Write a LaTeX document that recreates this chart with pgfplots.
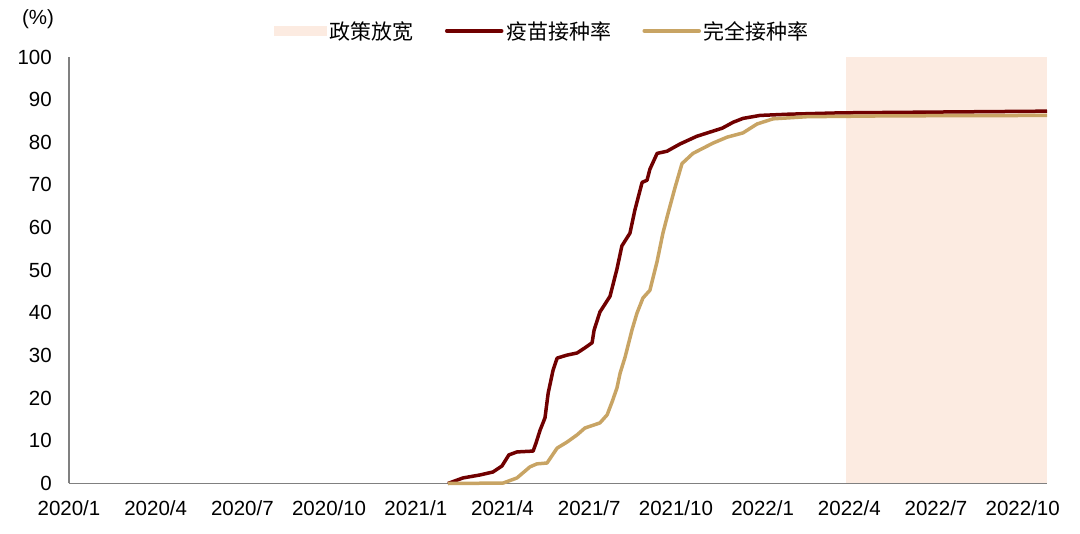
\documentclass[border=0pt]{standalone}
\usepackage{fontspec}
\setmainfont{Liberation Sans}
\newfontfamily\cjk{Noto Sans CJK SC}
\usepackage{pgfplots}
\pgfplotsset{compat=1.18}
\definecolor{vred}{HTML}{700000}
\definecolor{vtan}{HTML}{C8A464}
\definecolor{vshade}{HTML}{FCEBE1}
\definecolor{axgray}{HTML}{808080}
\begin{document}
\begin{tikzpicture}
\begin{axis}[
 set layers,
 scale only axis, width=978pt, height=426.5pt,
 xmin=0, xmax=33.84, ymin=0, ymax=100,
 axis x line*=bottom, axis y line*=left,
 axis line style={draw=axgray, line width=1.4pt, -},
 major tick length=0pt,
 xtick={0,3,...,33},
 xticklabels={2020/1,2020/4,2020/7,2020/10,2021/1,2021/4,2021/7,2021/10,2022/1,2022/4,2022/7,2022/10},
 ytick={0,10,...,100},
 /pgf/number format/assume math mode=true,
 tick label style={font=\fontsize{20.5}{24}\selectfont, inner sep=0pt},
 xticklabel style={anchor=north, yshift=-16.5pt},
 yticklabel style={anchor=east, xshift=-17pt},
 clip=false,
 legend columns=3,
 legend style={at={(axis description cs:0.2096,1.061)}, anchor=west, draw=none, fill=none,
   inner sep=0pt, outer sep=0pt, font=\cjk\fontsize{21}{24}\selectfont,
   nodes={inner sep=3pt},
   /tikz/every even column/.append style={column sep=28pt}},
]
\addplot[on layer=axis background, fill=vshade, draw=none,
  legend image code/.code={\fill[vshade] (0pt,-5pt) rectangle (53pt,5pt);}]
  coordinates {(26.9,0) (26.9,100) (33.84,100) (33.84,0)} -- cycle;
\addlegendentry{政策放宽}
\addplot[vred, line width=3.5pt, line join=round,
  legend image code/.code={\draw[vred, line width=3.5pt, line cap=round] (0pt,0pt) -- (55pt,0pt);}]
  coordinates {
(13.11,0) (13.63,1.3) (14.22,2.0) (14.67,2.7) (14.98,4.1) (15.22,6.7) (15.50,7.4)
(16.06,7.6) (16.16,9.5) (16.30,12.5) (16.47,15.4) (16.58,21.2) (16.75,26.6) (16.89,29.4)
(17.23,30.1) (17.58,30.6) (17.85,31.8) (18.10,33.0) (18.17,36.0) (18.37,40.2) (18.72,43.9)
(18.96,50.3) (19.13,55.7) (19.41,58.7) (19.58,64.1) (19.83,70.6) (20.00,71.1) (20.10,73.7)
(20.35,77.4) (20.69,77.9) (21.14,79.6) (21.72,81.4) (22.18,82.4) (22.60,83.3) (22.98,84.7)
(23.32,85.6) (23.91,86.3) (24.95,86.6) (26.68,86.9) (28.41,87.0) (33.84,87.3)
  };
\addlegendentry{疫苗接种率}
\addplot[vtan, line width=3.5pt, line join=round,
  legend image code/.code={\draw[vtan, line width=3.5pt, line cap=round] (0pt,0pt) -- (55pt,0pt);}]
  coordinates {
(13.11,0) (15.02,0.1) (15.50,1.3) (15.95,3.9) (16.19,4.6) (16.54,4.8) (16.89,8.3)
(17.23,9.7) (17.58,11.4) (17.85,13.0) (18.37,14.2) (18.62,16.1) (18.79,19.1) (18.96,22.4)
(19.07,25.9) (19.24,29.6) (19.48,36.0) (19.65,39.9) (19.86,43.5) (20.10,45.3) (20.35,52.1)
(20.55,58.7) (20.73,63.4) (20.97,69.4) (21.21,75.0) (21.59,77.4) (22.08,79.1) (22.28,79.8)
(22.77,81.2) (23.32,82.2) (23.81,84.3) (24.36,85.5) (25.54,86.0) (28.41,86.2) (33.84,86.3)
  };
\addlegendentry{完全接种率}
\end{axis}
\node[font=\fontsize{20.5}{24}\selectfont, inner sep=0pt] at (-31pt,464pt) {(\%)};
\path (-69pt,-50.5pt) rectangle (1011pt,483.5pt);
\end{tikzpicture}
\end{document}
